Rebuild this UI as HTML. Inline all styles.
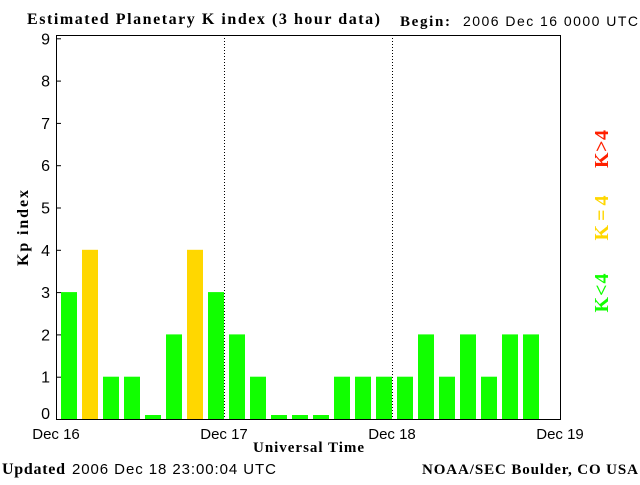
<!DOCTYPE html>
<html><head><meta charset="utf-8"><style>
body{margin:0;background:#fff;width:640px;height:480px;overflow:hidden}
svg text{font-family:"Liberation Serif",serif}
</style></head><body>
<svg width="640" height="480">
<text x="27" y="24" font-size="16" font-weight="bold" textLength="353" lengthAdjust="spacing">Estimated Planetary K index (3 hour data)</text>
<text x="400" y="26" font-size="15" font-weight="bold" textLength="50">Begin:</text>
<text x="463" y="26" font-size="14" textLength="175" style="font-family:'Liberation Sans',sans-serif">2006 Dec 16 0000 UTC</text>
<g id="plot"></g>
<text x="28" y="228" font-size="16" font-weight="bold" textLength="76" transform="rotate(-90 28 228)" text-anchor="middle">Kp index</text>
<text x="253" y="452" font-size="15" font-weight="bold" textLength="111">Universal Time</text>
<text x="2" y="474" font-size="16" font-weight="bold" textLength="63">Updated</text>
<text x="72" y="474" font-size="15" textLength="204" style="font-family:'Liberation Sans',sans-serif">2006 Dec 18 23:00:04 UTC</text>
<text x="422" y="474" font-size="15" font-weight="bold" textLength="216">NOAA/SEC Boulder, CO USA</text>
<text x="608" y="149" font-size="20" font-weight="bold" textLength="38" fill="#ff2000" text-anchor="middle" transform="rotate(-90 608 149)">K&gt;4</text>
<text x="608" y="218" font-size="20" font-weight="bold" textLength="45" fill="#ffd700" text-anchor="middle" transform="rotate(-90 608 218)">K=4</text>
<text x="608" y="293" font-size="20" font-weight="bold" textLength="39" fill="#11ff00" text-anchor="middle" transform="rotate(-90 608 293)">K&lt;4</text>
</svg>
<script>
const kpValues=[3,4,1,1,0,2,4,3,2,1,0,0,0,1,1,1,1,2,1,2,1,2,2];
const dayLabels=["Dec 16","Dec 17","Dec 18","Dec 19"];
const yTicks=[0,1,2,3,4,5,6,7,8,9];
const NS="http://www.w3.org/2000/svg";
const g=document.getElementById('plot');
const X0=56,X1=560,Y0=419,YT=35;
const xs=i=>X0+i*(X1-X0)/24;
const ys=v=>Y0-v*42.3;
function mk(t,a){const e=document.createElementNS(NS,t);for(const k in a)e.setAttribute(k,a[k]);g.appendChild(e);return e;}
kpValues.forEach((v,i)=>{
 const col=v>4?"#ff2000":v==4?"#ffd700":"#11ff00";
 const top=v==0?Y0-4:ys(v);
 const r=mk('rect',{x:xs(i)+5,y:top,width:16,height:Y0-top,fill:col});
 
 
});
for(let d=1;d<3;d++){const l=mk('line',{x1:xs(d*8)+.5,y1:YT,x2:xs(d*8)+.5,y2:Y0,stroke:'#000','stroke-dasharray':'1,2'});
 }
const ax=mk('path',{d:`M${X0+.5},${YT+.5}H${X1+.5}V${Y0+.5}H${X0+.5}Z`,fill:'none',stroke:'#000'});

yTicks.forEach(v=>{
 mk('line',{x1:X0,x2:X0+5,y1:ys(v)+.5,y2:ys(v)+.5,stroke:'#000'});
 const t=mk('text',{x:50,y:(v==0?413:ys(v))+6,'font-size':16,'text-anchor':'end',style:"font-family:'Liberation Sans',sans-serif"});
 t.textContent=v;
 
});
dayLabels.forEach((s,i)=>{
 const t=mk('text',{x:xs(i*8),y:439,'font-size':15,'text-anchor':'middle',style:"font-family:'Liberation Sans',sans-serif"});
 t.textContent=s;
 
});
</script>
</body></html>
